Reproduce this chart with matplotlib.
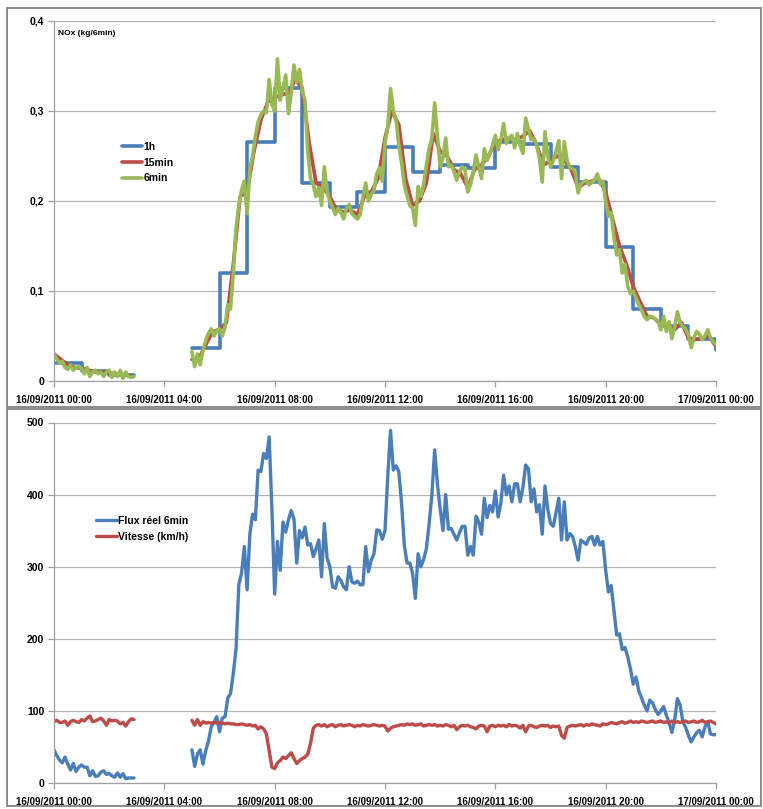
import matplotlib
matplotlib.use('Agg')
import matplotlib.pyplot as plt
from matplotlib.patches import Rectangle
import numpy as np

plt.rcParams['font.family'] = ['Liberation Sans Narrow', 'Liberation Sans', 'DejaVu Sans']
plt.rcParams['font.weight'] = 'bold'
plt.rcParams['lines.solid_joinstyle'] = 'round'
plt.rcParams['lines.solid_capstyle'] = 'round'

# ---- data (time in hours from 16/09/2011 00:00, 6 min steps) ----
# night part 00:00 - 02:54, then data gap, then 05:00 - 24:00
nox_6min_night = [0.030, 0.025, 0.020, 0.022, 0.015, 0.013, 0.018, 0.012, 0.015, 0.016,
                  0.014, 0.008, 0.015, 0.005, 0.010, 0.012, 0.008, 0.010, 0.005, 0.010,
                  0.012, 0.004, 0.010, 0.005, 0.012, 0.003, 0.010, 0.005, 0.004, 0.005]
nox_6min_day = [
    0.033, 0.016, 0.030, 0.018, 0.034, 0.045, 0.053, 0.058, 0.050, 0.056,   # 05h
    0.058, 0.050, 0.060, 0.085, 0.080, 0.120, 0.170, 0.195, 0.212, 0.222,   # 06h
    0.186, 0.235, 0.250, 0.272, 0.288, 0.296, 0.300, 0.298, 0.335, 0.307,   # 07h
    0.300, 0.358, 0.312, 0.325, 0.340, 0.297, 0.320, 0.351, 0.332, 0.346,   # 08h
    0.322, 0.312, 0.255, 0.225, 0.218, 0.205, 0.215, 0.195, 0.238, 0.210,   # 09h
    0.200, 0.193, 0.185, 0.192, 0.187, 0.180, 0.192, 0.196, 0.186, 0.183,   # 10h
    0.180, 0.185, 0.205, 0.220, 0.200, 0.207, 0.212, 0.230, 0.237, 0.222,   # 11h
    0.265, 0.282, 0.325, 0.300, 0.290, 0.262, 0.243, 0.218, 0.206, 0.195,   # 12h
    0.192, 0.173, 0.216, 0.205, 0.218, 0.240, 0.258, 0.270, 0.309, 0.272,   # 13h
    0.238, 0.248, 0.270, 0.238, 0.240, 0.233, 0.223, 0.232, 0.238, 0.235,   # 14h
    0.210, 0.218, 0.232, 0.251, 0.238, 0.225, 0.258, 0.245, 0.253, 0.262,   # 15h
    0.273, 0.257, 0.268, 0.286, 0.264, 0.270, 0.273, 0.259, 0.275, 0.262,   # 16h
    0.253, 0.292, 0.280, 0.268, 0.270, 0.262, 0.247, 0.221, 0.277, 0.250,   # 17h
    0.238, 0.245, 0.255, 0.267, 0.225, 0.266, 0.245, 0.237, 0.236, 0.232,   # 18h
    0.209, 0.219, 0.221, 0.223, 0.218, 0.221, 0.223, 0.230, 0.219, 0.222,   # 19h
    0.200, 0.183, 0.187, 0.160, 0.140, 0.146, 0.120, 0.130, 0.105, 0.097,   # 20h
    0.100, 0.092, 0.085, 0.079, 0.072, 0.068, 0.072, 0.071, 0.069, 0.066,   # 21h
    0.057, 0.072, 0.055, 0.066, 0.047, 0.060, 0.077, 0.065, 0.060, 0.058,   # 22h
    0.051, 0.037, 0.048, 0.055, 0.052, 0.046, 0.050, 0.057, 0.048, 0.044,   # 23h
    0.040]

# 15 min values
nox_15min_night = [0.030, 0.024, 0.018, 0.015, 0.014, 0.012, 0.010, 0.010, 0.009, 0.008, 0.007, 0.006]
nox_15min_day = [
    0.024, 0.025, 0.040, 0.055,
    0.057, 0.065, 0.130, 0.205,
    0.210, 0.255, 0.290, 0.310,
    0.315, 0.318, 0.320, 0.335,
    0.325, 0.265, 0.220, 0.215,
    0.205, 0.190, 0.188, 0.190,
    0.185, 0.205, 0.210, 0.225,
    0.270, 0.300, 0.285, 0.225,
    0.195, 0.200, 0.220, 0.275,
    0.255, 0.250, 0.235, 0.230,
    0.215, 0.235, 0.240, 0.250,
    0.265, 0.268, 0.270, 0.268,
    0.272, 0.278, 0.262, 0.240,
    0.245, 0.250, 0.245, 0.235,
    0.215, 0.220, 0.222, 0.225,
    0.210, 0.180, 0.150, 0.130,
    0.105, 0.088, 0.072, 0.070,
    0.063, 0.062, 0.057, 0.065,
    0.048, 0.046, 0.048, 0.050,
    0.038]

# hourly values
nox_1h_night_hours = [0, 1, 2, 2.9]
nox_1h_night = [0.020, 0.011, 0.007, 0.007]
nox_1h_day_hours = [5, 6, 7, 8, 9, 10, 11, 12, 13, 14, 15, 16, 17, 18, 19, 20, 21, 22, 23, 23.9, 24]
nox_1h_day = [0.037, 0.120, 0.265, 0.326, 0.220, 0.193, 0.210, 0.260, 0.232, 0.240, 0.237,
              0.266, 0.263, 0.238, 0.221, 0.149, 0.080, 0.061, 0.047, 0.047, 0.035]

flux_night = [46, 38, 32, 28, 36, 26, 18, 27, 16, 22, 25, 22, 22, 10, 17, 9, 10, 15, 17, 12,
              13, 10, 8, 14, 8, 13, 6, 7, 7, 7]
flux_day = [
    46, 23, 40, 46, 26, 45, 58, 78, 84, 92,
    71, 90, 92, 118, 124, 152, 186, 275, 291, 328,
    268, 345, 373, 365, 434, 432, 457, 450, 480, 380,
    262, 335, 295, 362, 348, 365, 378, 366, 305, 350,
    340, 355, 330, 332, 314, 325, 337, 286, 360, 312,
    300, 272, 270, 286, 281, 272, 268, 300, 279, 277,
    280, 275, 275, 328, 293, 309, 318, 351, 350, 338,
    350, 425, 489, 434, 440, 432, 388, 330, 305, 305,
    291, 256, 318, 300, 310, 325, 360, 400, 462, 415,
    380, 350, 400, 352, 353, 345, 337, 347, 356, 356,
    316, 328, 316, 370, 362, 345, 395, 368, 385, 376,
    405, 369, 388, 427, 400, 412, 390, 415, 415, 390,
    410, 441, 436, 390, 408, 376, 386, 345, 412, 380,
    360, 356, 375, 395, 337, 390, 337, 346, 342, 328,
    309, 337, 334, 331, 340, 342, 330, 342, 330, 335,
    295, 265, 274, 240, 205, 207, 185, 188, 175, 158,
    137, 147, 128, 118, 108, 100, 115, 111, 102, 95,
    100, 106, 94, 84, 70, 87, 117, 108, 85, 77,
    66, 57, 64, 70, 73, 64, 78, 85, 68, 67,
    67]

vitesse_night = [85, 87, 84, 84, 86, 80, 85, 87, 85, 84, 88, 86, 90, 93, 85, 86, 88, 90, 86, 80,
                 88, 86, 87, 86, 82, 84, 79, 85, 89, 88]
vitesse_day = [
    87, 80, 88, 80, 85, 83, 84, 83, 84, 83,
    84, 83, 82, 83, 82, 82, 81, 81, 82, 81,
    80, 81, 79, 80, 75, 78, 75, 68, 45, 22,
    20, 28, 31, 36, 34, 38, 42, 34, 27, 31,
    34, 36, 40, 55, 76, 80, 81, 79, 81, 78,
    80, 81, 78, 80, 81, 79, 80, 81, 80, 78,
    80, 79, 81, 80, 79, 80, 81, 80, 79, 80,
    79, 72, 76, 78, 79, 80, 81, 80, 82, 81,
    82, 80, 81, 82, 79, 80, 81, 80, 81, 79,
    80, 79, 81, 80, 78, 80, 74, 78, 80, 79,
    80, 78, 77, 75, 79, 80, 79, 71, 79, 80,
    78, 80, 79, 80, 78, 81, 79, 80, 79, 76,
    80, 71, 79, 80, 78, 77, 79, 80, 79, 80,
    77, 79, 78, 79, 66, 62, 77, 79, 80, 79,
    80, 81, 79, 81, 80, 82, 81, 80, 79, 82,
    81, 82, 84, 83, 82, 84, 85, 83, 84, 86,
    84, 85, 84, 86, 85, 84, 85, 86, 84, 85,
    86, 84, 85, 83, 86, 84, 85, 84, 85, 86,
    84, 85, 86, 84, 85, 87, 84, 85, 86, 84,
    82]

tick_hours = [0, 4, 8, 12, 16, 20, 24]
tick_labels = ['16/09/2011 00:00', '16/09/2011 04:00', '16/09/2011 08:00', '16/09/2011 12:00',
               '16/09/2011 16:00', '16/09/2011 20:00', '17/09/2011 00:00']

BLUE = '#4a7ebb'
RED = '#be4b48'
GREEN = '#98b954'


def join(night, day, t_night, t_day):
    t = np.concatenate([t_night, [np.nan], t_day])
    v = np.concatenate([night, [np.nan], day])
    return t, v


t6_night = np.arange(len(nox_6min_night)) * 0.1
t6_day = 5 + np.arange(len(nox_6min_day)) * 0.1
t15_night = np.arange(len(nox_15min_night)) * 0.25
t15_day = 5 + np.arange(len(nox_15min_day)) * 0.25

W, H = 763, 809
fig = plt.figure(figsize=(W / 100, H / 100), dpi=100)

# chart area borders
for (x0, y0, x1, y1) in [(7, 8, 761, 407), (7, 409, 761, 806)]:
    fig.add_artist(Rectangle((x0 / W, 1 - y1 / H), (x1 - x0) / W, (y1 - y0) / H,
                             transform=fig.transFigure, fill=False, ec='#8a8a8a', lw=1.4))

ax1 = fig.add_axes([54 / W, 1 - 381 / H, 662 / W, 360 / H])
ax2 = fig.add_axes([54 / W, 1 - 783 / H, 662 / W, 360.5 / H])

# top chart
ax1.plot(nox_1h_night_hours, nox_1h_night, color=BLUE, lw=2.6, drawstyle='steps-post', label='1h')
ax1.plot(nox_1h_day_hours, nox_1h_day, color=BLUE, lw=2.6, drawstyle='steps-post')
t, v = join(nox_15min_night, nox_15min_day, t15_night, t15_day)
ax1.plot(t, v, color=RED, lw=2.6, label='15min')
t, v = join(nox_6min_night, nox_6min_day, t6_night, t6_day)
ax1.plot(t, v, color=GREEN, lw=2.6, label='6min')
ax1.set_ylim(0, 0.4)
ax1.set_yticks([0, 0.1, 0.2, 0.3, 0.4])
ax1.set_yticklabels(['0', '0,1', '0,2', '0,3', '0,4'])
ax1.text(0.006, 0.965, 'NOx (kg/6min)', transform=ax1.transAxes, fontsize=6, va='center')
ax1.legend(loc='upper left', bbox_to_anchor=(0.088, 0.69), frameon=False, fontsize=7.5,
           handlelength=2.0, handletextpad=0.1, labelspacing=0.55)

# bottom chart
t, v = join(flux_night, flux_day, t6_night, t6_day)
ax2.plot(t, v, color=BLUE, lw=2.4, label='Flux réel 6min')
t, v = join(vitesse_night, vitesse_day, t6_night, t6_day)
ax2.plot(t, v, color=RED, lw=2.4, label='Vitesse (km/h)')
ax2.set_ylim(0, 500)
ax2.set_yticks([0, 100, 200, 300, 400, 500])
ax2.legend(loc='upper left', bbox_to_anchor=(0.050, 0.767), frameon=False, fontsize=7.5,
           handlelength=2.0, handletextpad=0.1, labelspacing=0.55)

for ax in (ax1, ax2):
    ax.set_xlim(0, 24)
    ax.set_xticks(tick_hours)
    ax.set_xticklabels(tick_labels)
    ax.grid(axis='y', color='#b4b4b4', lw=0.9)
    ax.set_axisbelow(True)
    for s in ('top', 'right'):
        ax.spines[s].set_visible(False)
    for s in ('left', 'bottom'):
        ax.spines[s].set_color('#a0a0a0')
        ax.spines[s].set_linewidth(0.9)
    ax.tick_params(axis='both', colors='#a0a0a0', labelcolor='black', labelsize=7.5,
                   length=4, width=0.9, pad=3)
    ax.tick_params(axis='x', labelsize=7, pad=6)

fig.savefig('out.png', dpi=100)
